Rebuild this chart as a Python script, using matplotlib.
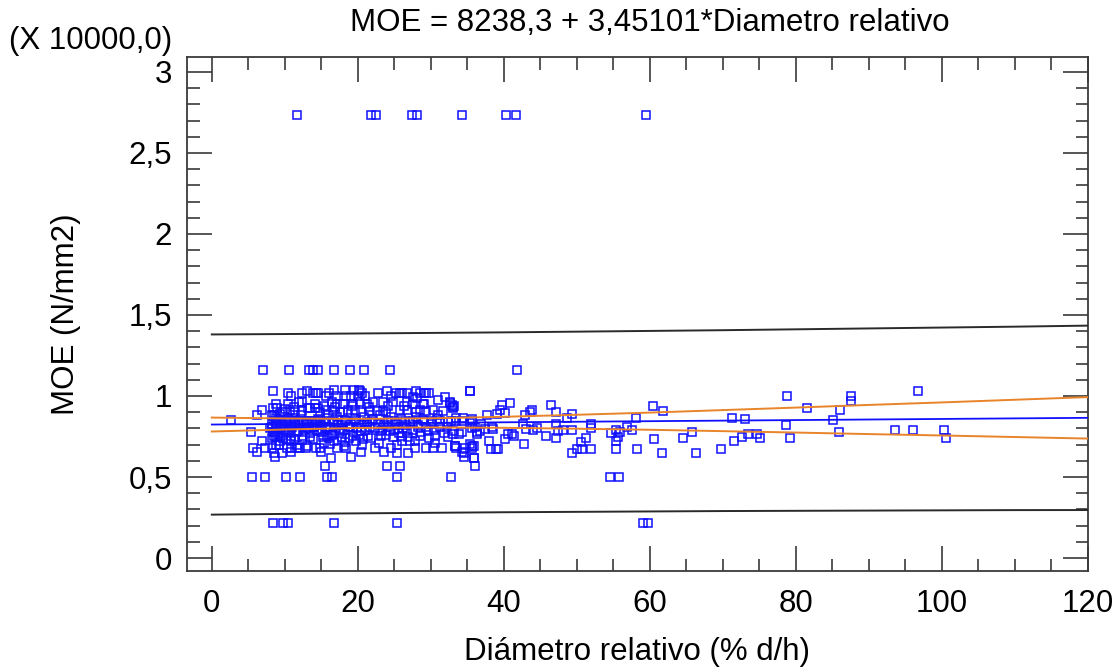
import numpy as np
import matplotlib
matplotlib.use("Agg")
import matplotlib.pyplot as plt
from matplotlib.ticker import MultipleLocator, FuncFormatter

plt.rcParams['font.family'] = ['Liberation Sans', 'DejaVu Sans']

# Fitted model (MOE in units of 10000 N/mm2)
INTERCEPT = 8238.3
SLOPE = 3.45101
SCALE = 10000.0

# Band half-widths (x 10000) at selected diameters
band_x = [0, 10, 20, 30, 40, 50, 60, 70, 80, 90, 100, 110, 120]
conf_hw = [0.043, 0.034, 0.028, 0.028, 0.034, 0.043, 0.053, 0.065, 0.077, 0.090, 0.102, 0.115, 0.128]
pred_hw = [0.556, 0.555, 0.555, 0.555, 0.555, 0.556, 0.557, 0.558, 0.560, 0.562, 0.564, 0.566, 0.569]

# Observations: relative diameter (% d/h) and MOE (x 10000 N/mm2)
diam_outliers = [11.6, 21.8, 22.5, 27.4, 28.1, 34.2, 40.3, 41.6, 59.5,
                 7.0, 10.6, 13.3, 13.9, 14.6, 16.8, 18.9, 20.9, 24.4, 41.8,
                 8.4, 9.7, 10.5, 16.7, 25.4, 59.0, 59.7,
                 5.5, 7.35, 10.1, 12.1, 15.8, 16.5, 25.3, 32.7, 54.5, 55.8,
                 15.5, 24.0, 25.8, 36.1]
moe_outliers = [2.732, 2.732, 2.732, 2.732, 2.732, 2.732, 2.732, 2.732, 2.732,
                1.16, 1.16, 1.16, 1.16, 1.16, 1.16, 1.16, 1.16, 1.16, 1.16,
                0.214, 0.214, 0.214, 0.214, 0.214, 0.214, 0.214,
                0.503, 0.503, 0.503, 0.503, 0.503, 0.503, 0.503, 0.503, 0.503, 0.503,
                0.570, 0.570, 0.570, 0.570]

diam_main = [2.6, 5.3, 5.6, 6.2, 6.2, 6.85, 6.9, 7.35,
    8.4, 8.4, 8.86, 8.9, 8.5, 8.86, 8.5, 8.86, 8.3, 8.86, 8.4, 8.5, 8.86, 8.2, 8.86, 8.3, 8.5, 8.7,
    9.3, 9.5, 9.5, 9.5, 9.3, 9.6, 9.8, 10.1, 10.1, 10.1, 10.3, 10.4, 10.4, 10.7, 10.9, 10.8, 10.9,
    10.9, 10.9, 10.9, 11.1, 11.4, 11.3, 11.4, 11.4, 11.6, 11.8, 11.8, 12.05, 12.4, 12.4, 12.4, 12.5,
    12.5, 12.5, 12.9, 13.0, 13.1, 13.2, 13.3, 13.4, 13.5, 13.7, 13.9, 13.9, 13.9, 14.1, 14.1, 14.3,
    14.3, 14.3, 14.6, 14.6, 14.8, 14.8, 14.8, 14.8, 15.0, 15.2, 15.4, 15.6, 15.7, 15.7, 15.7, 15.8,
    16.0, 16.2, 16.3, 16.5, 16.6, 16.6, 16.6, 16.8, 16.8, 17.0, 17.1, 17.1, 17.3, 17.5, 17.6, 17.8,
    18.0, 18.2, 18.2, 18.4, 18.4, 18.4, 18.7, 18.9, 19.0, 19.0, 19.3, 19.4, 19.5, 19.6, 19.8, 20.0,
    20.1, 20.3, 20.3, 20.5, 20.5, 20.5, 20.6, 20.7, 21.0, 21.2, 21.2, 21.4, 21.6, 21.9, 22.1, 22.3,
    22.6, 22.8, 23.0, 23.2, 23.5, 23.6, 23.9, 24.0, 24.2, 24.4, 24.5, 24.6, 24.8, 24.8, 25.1, 25.2,
    25.3, 25.5, 25.8, 25.8, 26.0, 26.1, 26.3, 26.4, 26.7, 26.7, 26.7, 26.9, 27.1, 27.5, 27.6, 27.6,
    27.8, 28.0, 28.1, 28.3, 28.5, 28.5, 28.5, 28.9, 29.0, 29.0, 29.4, 29.4, 29.4, 29.6, 29.8, 30.1,
    30.3, 30.3, 30.6, 31.0, 31.2, 31.5, 31.7, 32.0, 32.2, 32.4, 32.6, 32.8, 32.9, 33.1, 33.1, 33.3,
    33.5, 33.8, 34.2, 34.5, 34.7, 35.4, 35.6, 35.7, 35.9, 36.0, 36.3,
    32.6, 33.0, 33.2, 33.4, 34.4, 35.3, 35.6, 35.3, 35.7, 36.3, 34.2, 33.1, 33.3, 33.5, 34.2, 34.5,
    35.3, 35.6, 35.9, 35.9, 36.8, 36.9, 37.4, 37.7, 38.0, 38.3, 38.4, 38.5, 38.9, 39.1, 39.2, 39.5,
    39.8, 40.1, 40.1, 40.6, 40.8, 41.1, 41.4, 42.6, 42.8, 42.9, 43.0, 43.6, 43.9, 44.0, 44.5, 45.8,
    46.5, 47.1, 47.2, 47.2, 47.4, 48.1, 48.6, 49.3, 49.4, 49.4, 50.0, 50.6, 50.7, 51.2, 51.9, 51.9,
    51.9, 54.7, 55.3, 55.3, 55.4, 55.6, 55.9, 56.8, 57.5, 58.1, 58.2, 60.4, 60.6, 61.6, 61.8, 64.5,
    65.8, 66.3, 69.7, 71.2, 71.5, 72.6, 73.0, 73.4, 74.7, 75.1, 78.6, 78.8, 79.2, 81.5, 85.1, 85.9,
    86.1, 87.6, 87.6, 93.6, 96.0, 96.7, 100.3, 100.6,
    8.0, 8.2, 8.6, 8.8, 9.0, 9.1, 9.4, 9.6, 9.9, 10.2, 10.5, 10.6, 10.8, 11.0, 11.3, 11.5, 11.7,
    12.0, 12.2, 12.7, 12.9, 13.2, 13.5, 13.7, 14.0, 14.4, 14.6, 14.9, 15.1, 15.4, 15.6, 15.9, 16.2,
    16.4, 16.7, 17.0, 17.2, 17.4, 17.8, 18.0, 18.3, 18.6, 18.8, 19.1, 19.3, 19.6, 19.9, 20.1, 20.4,
    20.8, 21.0, 21.3, 21.6, 21.8, 22.1, 22.4, 22.7, 23.0, 23.3, 23.6, 23.9, 24.2, 24.5, 24.9, 25.2,
    25.6, 25.9, 26.2, 26.6, 26.9, 27.2, 27.5, 27.9, 28.2, 28.6, 28.9, 29.3, 29.7, 30.0, 30.4, 30.8,
    31.3, 31.8, 32.3, 9.2, 10.0, 11.9, 13.0, 14.2, 15.3, 16.9, 18.1, 19.2, 20.6, 21.5, 22.9, 24.1,
    25.4, 26.8, 27.8, 29.1, 30.6, 8.3, 9.7, 12.3, 16.1, 17.9, 19.8, 23.4, 26.0, 28.0, 31.0]

moe_main = [0.851, 0.777, 0.680, 0.655, 0.884, 0.725, 0.913, 0.680,
    1.028, 0.925, 0.953, 0.925, 0.884, 0.867, 0.847, 0.836, 0.810, 0.806, 0.775, 0.754, 0.744, 0.740, 0.698, 0.676, 0.651, 0.624,
    0.890, 0.847, 0.806, 0.754, 0.723, 0.651, 0.904, 0.847, 0.775, 0.734, 0.676, 1.016, 0.953, 0.913, 0.998, 0.847, 0.806,
    0.754, 0.682, 0.655, 0.867, 0.904, 0.933, 0.826, 0.734, 0.676, 0.847, 0.785, 0.676, 0.960, 1.016, 0.909, 0.847,
    0.806, 0.754, 0.676, 0.847, 1.028, 0.925, 0.826, 0.744, 0.925, 0.847, 1.016, 0.806, 0.734, 0.925, 0.847, 0.676,
    1.016, 0.826, 1.016, 0.925, 0.904, 0.847, 0.785, 0.676, 0.655, 0.744, 0.940, 0.998, 0.913, 0.847, 0.806, 0.754,
    1.016, 0.703, 0.620, 0.960, 0.909, 0.847, 0.765, 1.034, 0.723, 0.998, 0.948, 0.682, 0.826, 0.785, 0.904, 0.744,
    0.953, 1.034, 0.713, 0.998, 0.847, 0.676, 0.913, 0.806, 0.624, 0.998, 0.953, 0.754, 1.034, 0.913, 0.847, 0.998,
    1.034, 0.960, 1.028, 0.904, 0.785, 0.655, 1.016, 0.734, 0.998, 0.953, 0.826, 0.754, 0.909, 0.847, 0.960, 0.676,
    0.909, 1.016, 0.785, 0.754, 0.960, 0.655, 0.904, 1.028, 0.847, 0.785, 0.998, 0.676, 0.960, 0.744, 0.847, 1.016,
    0.651, 0.796, 1.016, 0.913, 0.754, 1.016, 0.940, 0.847, 1.016, 0.913, 0.785, 0.651, 0.723, 0.991, 0.948, 0.847,
    0.682, 1.028, 0.985, 0.806, 1.016, 0.913, 0.754, 0.948, 0.847, 1.016, 1.016, 0.909, 0.676, 0.785, 1.016, 0.847,
    0.913, 0.676, 0.754, 0.975, 0.847, 0.676, 0.909, 0.991, 0.806, 0.744, 0.957, 0.847, 0.945, 0.925, 0.785, 0.692,
    0.847, 0.765, 0.847, 0.651, 0.682, 1.028, 0.847, 0.692, 0.620, 0.806, 0.765,
    0.962, 0.933, 0.940, 0.867, 0.867, 1.028, 0.857, 0.836, 0.801, 0.775, 0.779, 0.765, 0.692, 0.678, 0.657, 0.624,
    0.706, 0.678, 0.692, 0.620, 0.785, 0.830, 0.795, 0.884, 0.723, 0.672, 0.810, 0.795, 0.672, 0.891, 0.672, 0.913,
    0.946, 0.898, 0.734, 0.765, 0.955, 0.765, 0.754, 0.826, 0.703, 0.884, 0.799, 0.904, 0.913, 0.793, 0.801, 0.754,
    0.946, 0.738, 0.904, 0.826, 0.785, 0.793, 0.862, 0.646, 0.891, 0.793, 0.672, 0.713, 0.672, 0.738, 0.826, 0.801,
    0.672, 0.769, 0.793, 0.672, 0.723, 0.744, 0.779, 0.810, 0.793, 0.862, 0.672, 0.937, 0.732, 0.646, 0.909, 0.738,
    0.779, 0.646, 0.672, 0.867, 0.723, 0.748, 0.855, 0.765, 0.765, 0.738, 0.822, 0.999, 0.738, 0.923, 0.854, 0.779,
    0.915, 0.999, 0.970, 0.793, 0.793, 1.028, 0.793, 0.738,
    0.80, 0.83, 0.78, 0.82, 0.86, 0.76, 0.80, 0.83, 0.79, 0.82, 0.86, 0.79, 0.72, 0.81, 0.84, 0.78, 0.70,
    0.82, 0.88, 0.79, 0.83, 0.80, 0.77, 0.84, 0.81, 0.79, 0.86, 0.82, 0.78, 0.84, 0.80, 0.88, 0.81,
    0.76, 0.84, 0.80, 0.87, 0.77, 0.82, 0.79, 0.85, 0.81, 0.74, 0.83, 0.78, 0.86, 0.80, 0.76, 0.83,
    0.87, 0.79, 0.84, 0.81, 0.74, 0.86, 0.80, 0.83, 0.88, 0.79, 0.82, 0.76, 0.81, 0.87, 0.79, 0.83,
    0.77, 0.86, 0.80, 0.82, 0.75, 0.84, 0.79, 0.87, 0.82, 0.78, 0.85, 0.81, 0.74, 0.83, 0.79, 0.86,
    0.81, 0.77, 0.84, 0.70, 0.92, 0.96, 0.69, 0.95, 0.71, 0.93, 0.69, 0.94, 0.70, 0.93, 0.71, 0.94,
    0.70, 0.96, 0.72, 0.95, 0.71, 0.88, 0.74, 0.73, 0.74, 0.90, 0.72, 0.91, 0.72, 0.90, 0.88]

x_ticks = [0, 20, 40, 60, 80, 100, 120]
y_ticks = [0, 0.5, 1, 1.5, 2, 2.5, 3]

BLUE = '#1010ff'
ORANGE = '#e8842a'
DARK = '#2a2a2a'
FS = 22.5

fig = plt.figure(figsize=(11.17, 6.68), dpi=100)
ax = fig.add_axes([0.1674, 0.1452, 0.8066, 0.7695])

diam = np.array(diam_main + diam_outliers)
moe = np.array(moe_main + moe_outliers)
ax.plot(diam, moe, linestyle='none', marker='s', markersize=5.2,
        markerfacecolor='none', markeredgecolor=BLUE, markeredgewidth=1.1, zorder=3)

bx = np.array(band_x, dtype=float)
fit = (INTERCEPT + SLOPE * bx) / SCALE
ax.plot(bx, fit, color=BLUE, lw=1.3, zorder=4)
ax.plot(bx, fit + np.array(conf_hw), color=ORANGE, lw=1.4, zorder=4)
ax.plot(bx, fit - np.array(conf_hw), color=ORANGE, lw=1.4, zorder=4)
ax.plot(bx, fit + np.array(pred_hw), color=DARK, lw=1.4, zorder=4)
ax.plot(bx, fit - np.array(pred_hw), color=DARK, lw=1.4, zorder=4)

ax.set_xlim(-3.4, 120)
ax.set_ylim(-0.08, 3.092)
ax.set_xticks(x_ticks)
ax.set_yticks(y_ticks)
ax.xaxis.set_minor_locator(MultipleLocator(5))
ax.yaxis.set_minor_locator(MultipleLocator(0.1))
ax.yaxis.set_major_formatter(FuncFormatter(lambda v, p: f"{v:g}".replace('.', ',')))

for s in ax.spines.values():
    s.set_color('#3a3a3a')
    s.set_linewidth(1.3)
ax.tick_params(which='both', direction='in', top=True, right=True, color='#3a3a3a', width=1.2)
ax.tick_params(which='major', length=18, labelsize=FS)
ax.tick_params(which='minor', length=9)
ax.tick_params(axis='x', which='major', pad=13)
ax.tick_params(axis='y', which='major', pad=11)

ax.set_xlabel('Diámetro relativo (% d/h)', fontsize=FS, labelpad=13)
ax.set_ylabel('MOE (N/mm2)', fontsize=FS, labelpad=34)
fig.text(0.582, 0.965, 'MOE = 8238,3 + 3,45101*Diametro relativo', fontsize=FS,
         ha='center', va='center')
fig.text(0.008, 0.938, '(X 10000,0)', fontsize=FS, ha='left', va='center')

fig.savefig('out.png', dpi=100)
